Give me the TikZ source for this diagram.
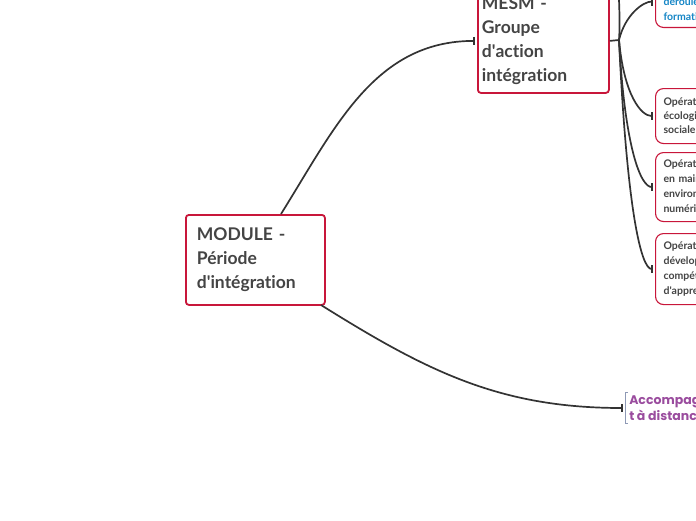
\documentclass[tikz,border=0pt]{standalone}
\usepackage{fontspec}
\setmainfont{Lato}[Ligatures=NoCommon]
\newfontfamily\accfont{Poppins}
\usetikzlibrary{arrows.meta,positioning,calc}
\definecolor{cFrame}{HTML}{C8163A}
\definecolor{cInk}{HTML}{444444}
\definecolor{cLink}{HTML}{333333}
\definecolor{cBlue}{HTML}{1686C6}
\definecolor{cPurple}{HTML}{9A4C9E}
\definecolor{cBracket}{HTML}{8E99B5}
\newcommand{\apos}{\textquotesingle}
\tikzset{
  every picture/.style={line width=0.5pt},
  topic/.style={draw=cFrame, line width=1.8pt, rounded corners=3pt, fill=white,
                text=cInk, font=\bfseries\fontsize{17.5}{24}\selectfont, align=left,
                anchor=north west, inner xsep=11pt, inner ysep=0pt},
  sub/.style={draw=cFrame, line width=1.1pt, rounded corners=8pt, fill=white,
              text=cInk, font=\bfseries\fontsize{10.5}{15}\selectfont, align=left,
              anchor=north west, inner xsep=8pt, inner ysep=0pt, text width=120pt},
  leaf/.style={text=cPurple, font=\accfont\bfseries\fontsize{12.5}{16}\selectfont,
               align=left, anchor=west, inner xsep=4pt, inner ysep=3pt},
  link/.style={draw=cLink, line width=1.7pt,
               -{Bar[width=8pt,line width=1.7pt]}, shorten >=2pt},
  stem/.style={draw=cLink, line width=1.7pt},
  brk/.style={draw=cBracket, line width=1pt},
}

\begin{document}
\begin{tikzpicture}[x=1pt,y=-1pt]
\useasboundingbox (0,0) rectangle (696,520);
\clip (0,0) rectangle (696,520);

% ------------------------------------------------------------ main topics
\node[topic, text width=117pt, minimum height=90pt] (module) at (185,214)
      {MODULE -\\ Période\\ d\apos intégration};
\node[topic, inner xsep=4pt, text width=123pt, minimum height=104pt] (mesm) at (477,-12)
      {MESM -\\ Groupe\\ d\apos action\\ intégration};

% ------------------------------------------------------------ sub topics
\node[sub, text=cBlue, anchor=south west, inner ysep=7pt] (suivi) at (655,28)
      {Suivi du\\ déroulement de la\\ formation};
\node[sub, minimum height=55pt, font=\bfseries\fontsize{10.5}{14}\selectfont] (op1) at (655,88)
      {Opération transition\\ écologique et\\ sociale};
\node[sub, minimum height=69pt] (op2) at (655,152)
      {Opération de mise\\ en main des\\ environnements\\ numériques};
\node[sub, minimum height=71pt] (op3) at (655,233)
      {Opération de\\ développement des\\ compétences\\ d\apos apprentissage};

\node[leaf] (acc) at (625,408) {Accompagnemen\\ t à distance};
\draw[brk] ([xshift=3pt]acc.north west) -- (acc.north west)
      -- (acc.south west) -- ([xshift=3pt]acc.south west);

% ------------------------------------------------------------ connectors
\draw[link] (281,214) to[out=58,in=180] (mesm.west);
\draw[link] (321,305) to[out=-32,in=180] (acc.west);

\coordinate (fork) at (619,40);
\coordinate (above) at (660,-110);
\draw[stem] (mesm.east) -- (fork);
\draw[stem] (fork) to[out=86,in=180] (above);
\draw[link] (fork) .. controls +(6,-25) and +(-12,0) .. (suivi.west);
\draw[link] (fork) .. controls +(5,55) and +(-14,0) .. (op1.west);
\draw[link] (fork) .. controls +(6,110) and +(-14,0) .. (op2.west);
\draw[link] (fork) .. controls +(8,170) and +(-14,0) .. (op3.west);

\end{tikzpicture}
\end{document}
